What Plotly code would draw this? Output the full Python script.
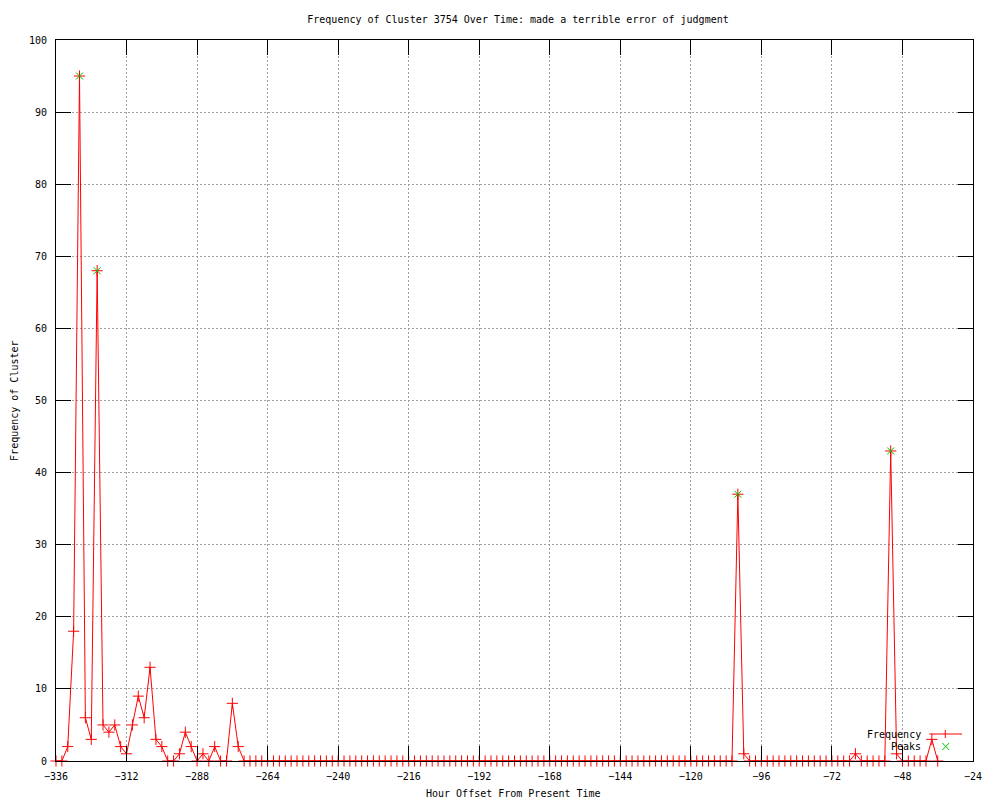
import plotly.graph_objects as go

# ---- data ----
hours = list(range(-336, -34, 2))  # bins every 2 hours, -336 .. -36
frequency = [
    0, 0, 2, 18, 95, 6, 3, 68, 5, 4,      # -336 .. -318
    5, 2, 1, 5, 9, 6, 13, 3, 2, 0,        # -316 .. -298
    0, 1, 4, 2, 0, 1, 0, 2, 0, 0,         # -296 .. -278
    8, 2, 0, 0, 0, 0, 0, 0, 0, 0,         # -276 .. -258
    0, 0, 0, 0, 0, 0, 0, 0, 0, 0,         # -256 .. -238
    0, 0, 0, 0, 0, 0, 0, 0, 0, 0,         # -236 .. -218
    0, 0, 0, 0, 0, 0, 0, 0, 0, 0,         # -216 .. -198
    0, 0, 0, 0, 0, 0, 0, 0, 0, 0,         # -196 .. -178
    0, 0, 0, 0, 0, 0, 0, 0, 0, 0,         # -176 .. -158
    0, 0, 0, 0, 0, 0, 0, 0, 0, 0,         # -156 .. -138
    0, 0, 0, 0, 0, 0, 0, 0, 0, 0,         # -136 .. -118
    0, 0, 0, 0, 0, 0, 37, 1, 0, 0,        # -116 .. -98
    0, 0, 0, 0, 0, 0, 0, 0, 0, 0,         # -96 .. -78
    0, 0, 0, 0, 0, 0, 1, 0, 0, 0,         # -76 .. -58
    0, 0, 43, 1, 0, 0, 0, 0, 0, 3,        # -56 .. -38
    0,                                    # -36
]
peak_hours = [-328, -322, -104, -52]
peak_values = [95, 68, 37, 43]

x_ticks = [-336, -312, -288, -264, -240, -216, -192, -168, -144, -120, -96, -72, -48, -24]
y_ticks = [0, 10, 20, 30, 40, 50, 60, 70, 80, 90, 100]

title_text = "Frequency of Cluster 3754 Over Time: made a terrible error of judgment"
x_label = "Hour Offset From Present Time"
y_label = "Frequency of Cluster"

RED = "#ff0000"
GREEN = "#00c000"
FONT = "DejaVu Sans Mono"

# page offsets observed in the rendered page (html body margin)
OFFX, OFFY = 7, 7
FIG_W, FIG_H = 986, 793
# plot area in page pixels
L, R, T, B = 55, 981, 39, 760


def px(xp):
    return (xp - L) / (R - L)


def py(yp):
    return (B - yp) / (B - T)


fig = go.Figure()
fig.add_trace(go.Scatter(
    x=hours, y=frequency, mode="lines+markers", name="Frequency",
    line=dict(color=RED, width=1),
    marker=dict(symbol="cross-thin", size=8, line=dict(color=RED, width=1), color=RED),
    cliponaxis=False,
))
fig.add_trace(go.Scatter(
    x=peak_hours, y=peak_values, mode="markers", name="Peaks",
    marker=dict(symbol="x-thin", size=7, line=dict(color=GREEN, width=1), color=GREEN),
    cliponaxis=False,
))

axis_common = dict(
    showline=True, linecolor="black", linewidth=1, mirror="ticks",
    ticks="inside", ticklen=15, tickwidth=1, tickcolor="black",
    showgrid=True, gridcolor="#a0a0a0", gridwidth=1, griddash="2px,2px",
    zeroline=False, tickfont=dict(family=FONT, size=10, color="black"),
)

fig.update_xaxes(range=[-336, -24], tickvals=x_ticks, ticklabelstandoff=6, **axis_common)
fig.update_yaxes(range=[0, 100], tickvals=y_ticks, ticklabelstandoff=6, **axis_common)

shapes = [
    # legend sample for Frequency
    dict(type="line", xref="paper", yref="paper", x0=px(937), x1=px(970), y0=py(733), y1=py(733),
         line=dict(color=RED, width=1)),
    dict(type="line", xref="paper", yref="paper", x0=px(953), x1=px(953), y0=py(729), y1=py(737),
         line=dict(color=RED, width=1)),
    # legend sample for Peaks
    dict(type="line", xref="paper", yref="paper", x0=px(950), x1=px(957), y0=py(742), y1=py(749),
         line=dict(color=GREEN, width=1)),
    dict(type="line", xref="paper", yref="paper", x0=px(950), x1=px(957), y0=py(749), y1=py(742),
         line=dict(color=GREEN, width=1)),
]

annotations = [
    dict(text="Frequency", xref="paper", yref="paper", x=px(931), y=py(733), xanchor="right",
         yanchor="middle", showarrow=False, font=dict(family=FONT, size=10, color="black")),
    dict(text="Peaks", xref="paper", yref="paper", x=px(931), y=py(745), xanchor="right",
         yanchor="middle", showarrow=False, font=dict(family=FONT, size=10, color="black")),
    dict(text=x_label, xref="paper", yref="paper", x=px(517), y=py(792), xanchor="center",
         yanchor="middle", showarrow=False, font=dict(family=FONT, size=10, color="black")),
    dict(text=y_label, xref="paper", yref="paper", x=px(13), y=0.5, xanchor="center",
         yanchor="middle", showarrow=False, textangle=-90,
         font=dict(family=FONT, size=10, color="black")),
]

fig.update_layout(
    width=FIG_W, height=FIG_H,
    margin=dict(l=L - OFFX, r=FIG_W - (R - OFFX), t=T - OFFY, b=FIG_H - (B - OFFY)),
    plot_bgcolor="white", paper_bgcolor="white",
    showlegend=False,
    title=dict(text=title_text, x=(517 - OFFX) / FIG_W, xanchor="center",
               y=1 - (18 - OFFY) / FIG_H, yanchor="middle",
               font=dict(family=FONT, size=10, color="black")),
    shapes=shapes, annotations=annotations,
    font=dict(family=FONT, size=10, color="black"),
)

fig.write_html("out.html")
